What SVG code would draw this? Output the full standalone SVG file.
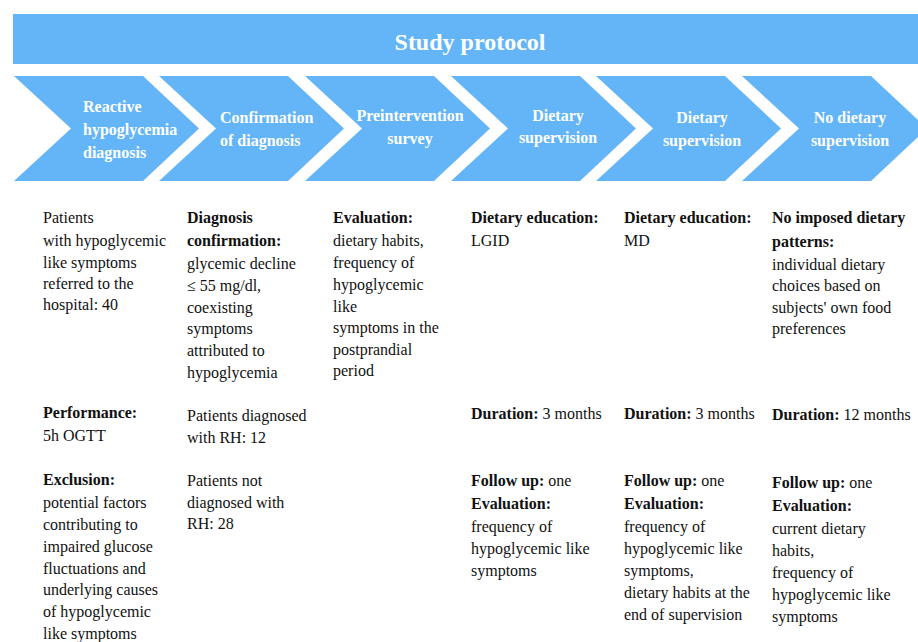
<svg xmlns="http://www.w3.org/2000/svg" width="918" height="642" viewBox="0 0 918 642" font-family="'Liberation Serif', 'DejaVu Serif', serif">
<style>
.fill{fill:#64B5F7}
.w{font-family:'Liberation Serif','DejaVu Serif',serif;font-weight:bold;fill:#fff;font-size:16px}
.t{font-family:'Liberation Serif','DejaVu Serif',serif;font-size:16px;fill:#111}
.b{font-weight:bold}
.m{text-anchor:middle}
</style>
<rect width="918" height="642" fill="#fff"/>
<g id="title">
<rect class="fill" x="13" y="14" width="910" height="50"/>
<text class="w m" x="470" y="50" style="font-size:24px">Study protocol</text>
</g>
<g id="connectors"/>
<g id="step1">
<path class="fill" d="M14,76 L143,76 L199,128.5 L143,181 L14,181 L71,128.5 Z"/>
<text class="w"><tspan x="83" y="112">Reactive</tspan><tspan x="83" y="135">hypoglycemia</tspan><tspan x="83" y="158">diagnosis</tspan></text>
</g>
<g id="step2">
<path class="fill" d="M159,76 L288,76 L344,128.5 L288,181 L159,181 L216,128.5 Z"/>
<text class="w"><tspan x="220" y="123">Confirmation</tspan><tspan x="220" y="146">of diagnosis</tspan></text>
</g>
<g id="step3">
<path class="fill" d="M305,76 L434,76 L490,128.5 L434,181 L305,181 L362,128.5 Z"/>
<text class="w m"><tspan x="410" y="121">Preintervention</tspan><tspan x="410" y="144">survey</tspan></text>
</g>
<g id="step4">
<path class="fill" d="M451,76 L580,76 L636,128.5 L580,181 L451,181 L508,128.5 Z"/>
<text class="w m"><tspan x="558" y="121">Dietary</tspan><tspan x="558" y="143">supervision</tspan></text>
</g>
<g id="step5">
<path class="fill" d="M596,76 L725,76 L781,128.5 L725,181 L596,181 L653,128.5 Z"/>
<text class="w m"><tspan x="702" y="123">Dietary</tspan><tspan x="702" y="146">supervision</tspan></text>
</g>
<g id="step6">
<path class="fill" d="M742,76 L871,76 L927,128.5 L871,181 L742,181 L799,128.5 Z"/>
<text class="w m"><tspan x="850" y="123">No dietary</tspan><tspan x="850" y="146">supervision</tspan></text>
</g>
<g id="col1">
<text class="t"><tspan x="43" y="223">Patients</tspan><tspan x="43" y="246">with hypoglycemic</tspan><tspan x="43" y="268">like symptoms</tspan><tspan x="43" y="289">referred to the</tspan><tspan x="43" y="310">hospital: 40</tspan></text>
<text class="t"><tspan x="43" y="418" class="b">Performance:</tspan><tspan x="43" y="441">5h OGTT</tspan></text>
<text class="t"><tspan x="43" y="485" class="b">Exclusion:</tspan><tspan x="43" y="508">potential factors</tspan><tspan x="43" y="530">contributing to</tspan><tspan x="43" y="552">impaired glucose</tspan><tspan x="43" y="574">fluctuations and</tspan><tspan x="43" y="595">underlying causes</tspan><tspan x="43" y="617">of hypoglycemic</tspan><tspan x="43" y="639">like symptoms</tspan></text>
</g>
<g id="col2">
<text class="t"><tspan x="187" y="223" class="b">Diagnosis</tspan><tspan x="187" y="246" class="b">confirmation:</tspan><tspan x="187" y="269">glycemic decline</tspan><tspan x="187" y="291">≤ 55 mg/dl,</tspan><tspan x="187" y="313">coexisting</tspan><tspan x="187" y="334">symptoms</tspan><tspan x="187" y="356">attributed to</tspan><tspan x="187" y="378">hypoglycemia</tspan></text>
<text class="t"><tspan x="187" y="421">Patients diagnosed</tspan><tspan x="187" y="443">with RH: 12</tspan></text>
<text class="t"><tspan x="187" y="486">Patients not</tspan><tspan x="187" y="508">diagnosed with</tspan><tspan x="187" y="529">RH: 28</tspan></text>
</g>
<g id="col3">
<text class="t"><tspan x="333" y="223" class="b">Evaluation:</tspan><tspan x="333" y="246">dietary habits,</tspan><tspan x="333" y="268">frequency of</tspan><tspan x="333" y="290">hypoglycemic</tspan><tspan x="333" y="312">like</tspan><tspan x="333" y="333">symptoms in the</tspan><tspan x="333" y="355">postprandial</tspan><tspan x="333" y="376">period</tspan></text>
</g>
<g id="col4">
<text class="t"><tspan x="471" y="223" class="b">Dietary education:</tspan><tspan x="471" y="246">LGID</tspan></text>
<text class="t" x="471" y="419"><tspan class="b">Duration:</tspan> 3 months</text>
<text class="t"><tspan x="471" y="486"><tspan class="b">Follow up:</tspan> one</tspan><tspan x="471" y="509" class="b">Evaluation:</tspan><tspan x="471" y="532">frequency of</tspan><tspan x="471" y="554">hypoglycemic like</tspan><tspan x="471" y="576">symptoms</tspan></text>
</g>
<g id="col5">
<text class="t"><tspan x="624" y="223" class="b">Dietary education:</tspan><tspan x="624" y="246">MD</tspan></text>
<text class="t" x="624" y="419"><tspan class="b">Duration:</tspan> 3 months</text>
<text class="t"><tspan x="624" y="486"><tspan class="b">Follow up:</tspan> one</tspan><tspan x="624" y="509" class="b">Evaluation:</tspan><tspan x="624" y="532">frequency of</tspan><tspan x="624" y="554">hypoglycemic like</tspan><tspan x="624" y="576">symptoms,</tspan><tspan x="624" y="598">dietary habits at the</tspan><tspan x="624" y="620">end of supervision</tspan></text>
</g>
<g id="col6">
<text class="t"><tspan x="772" y="223" class="b">No imposed dietary</tspan><tspan x="772" y="247" class="b">patterns:</tspan><tspan x="772" y="270">individual dietary</tspan><tspan x="772" y="291">choices based on</tspan><tspan x="772" y="313">subjects' own food</tspan><tspan x="772" y="334">preferences</tspan></text>
<text class="t" x="772" y="420"><tspan class="b">Duration:</tspan> 12 months</text>
<text class="t"><tspan x="772" y="488"><tspan class="b">Follow up:</tspan> one</tspan><tspan x="772" y="511" class="b">Evaluation:</tspan><tspan x="772" y="534">current dietary</tspan><tspan x="772" y="556">habits,</tspan><tspan x="772" y="578">frequency of</tspan><tspan x="772" y="600">hypoglycemic like</tspan><tspan x="772" y="622">symptoms</tspan></text>
</g>
</svg>
